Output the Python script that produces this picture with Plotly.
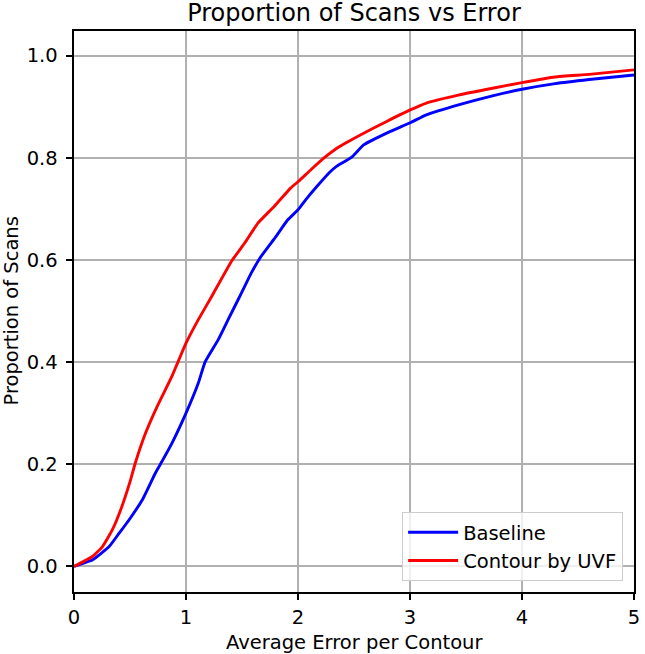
import plotly.graph_objects as go

# Data
baseline_x = [0, 0.167, 0.314, 0.403, 0.491, 0.609, 0.727, 0.771, 0.874, 1.0, 1.11, 1.17, 1.288,
              1.376, 1.465, 1.524, 1.582, 1.671, 1.804, 1.907, 2.0, 2.07, 2.17, 2.29, 2.35, 2.48,
              2.586, 2.82, 3.007, 3.146, 3.44, 3.736, 4.0, 4.296, 4.6, 5.0]
baseline_y = [0, 0.013, 0.039, 0.065, 0.091, 0.130, 0.183, 0.200, 0.241, 0.300, 0.359, 0.400, 0.444,
              0.483, 0.522, 0.548, 0.574, 0.607, 0.646, 0.678, 0.698, 0.718, 0.744, 0.773, 0.784, 0.801,
              0.825, 0.851, 0.869, 0.884, 0.904, 0.921, 0.934, 0.945, 0.953, 0.962]

uvf_x = [0, 0.167, 0.255, 0.343, 0.417, 0.506, 0.544, 0.639, 0.742, 0.874, 0.928, 1.0, 1.11, 1.228,
         1.405, 1.524, 1.642, 1.789, 1.936, 2.0, 2.113, 2.23, 2.35, 2.586, 2.792, 3.007, 3.146, 3.44,
         3.736, 4.0, 4.296, 4.6, 5.0]
uvf_y = [0, 0.020, 0.039, 0.072, 0.111, 0.170, 0.200, 0.261, 0.313, 0.372, 0.400, 0.437, 0.483, 0.528,
         0.597, 0.633, 0.672, 0.705, 0.741, 0.753, 0.776, 0.799, 0.819, 0.848, 0.871, 0.894, 0.907, 0.923,
         0.936, 0.947, 0.958, 0.963, 0.972]

x_ticks = [0, 1, 2, 3, 4, 5]
y_ticks = [0.0, 0.2, 0.4, 0.6, 0.8, 1.0]

FONT = "DejaVu Sans"
FS = 19.5

fig = go.Figure()
fig.add_trace(go.Scatter(x=baseline_x, y=baseline_y, mode="lines", name="Baseline",
                         line=dict(color="#0000ff", width=2.9, shape="spline", smoothing=0.4),
                         legendgroup="a"))
fig.add_trace(go.Scatter(x=uvf_x, y=uvf_y, mode="lines", name="Contour by UVF",
                         line=dict(color="#ff0000", width=2.9, shape="spline", smoothing=0.4),
                         legendgroup="b"))

axis_common = dict(
    showline=True, linecolor="black", linewidth=1.5, mirror=True,
    ticks="outside", ticklen=6.7, tickwidth=1.5, tickcolor="black",
    showgrid=True, gridcolor="#b0b0b0", gridwidth=1.5,
    zeroline=False,
    tickfont=dict(family=FONT, size=FS, color="black"),
)

fig.update_xaxes(range=[0, 5], tickvals=x_ticks, ticktext=[str(v) for v in x_ticks], **axis_common)
fig.update_yaxes(range=[-0.05, 1.048], tickvals=y_ticks, ticktext=[f"{v:.1f}" for v in y_ticks],
                 ticklabelstandoff=4, **axis_common)

fig.update_layout(
    width=645, height=654,
    margin=dict(l=74, r=5, t=31, b=62),
    paper_bgcolor="white", plot_bgcolor="white",
    font=dict(family=FONT, size=FS, color="black"),
    title=dict(text="Proportion of Scans vs Error", x=0.5, xref="paper", xanchor="center",
               y=1 - 13 / 654, yref="container", yanchor="middle",
               font=dict(family=FONT, size=24, color="black")),
    showlegend=True,
    legend=dict(x=0.9806, y=0.0196, xanchor="right", yanchor="bottom",
                bgcolor="rgba(255,255,255,0.8)", bordercolor="#cccccc", borderwidth=1,
                font=dict(family=FONT, size=FS, color="black"),
                traceorder="grouped", tracegroupgap=0, itemwidth=50),
    annotations=[
        dict(text="Average Error per Contour", xref="paper", yref="paper", x=0.5, y=0,
             xanchor="center", yanchor="middle", yshift=-50, showarrow=False,
             font=dict(family=FONT, size=FS, color="black")),
        dict(text="Proportion of Scans", xref="paper", yref="paper", x=0, y=0.5,
             xanchor="center", yanchor="middle", xshift=-63, textangle=-90, showarrow=False,
             font=dict(family=FONT, size=FS, color="black")),
    ],
)

fig.write_html("out.html")
